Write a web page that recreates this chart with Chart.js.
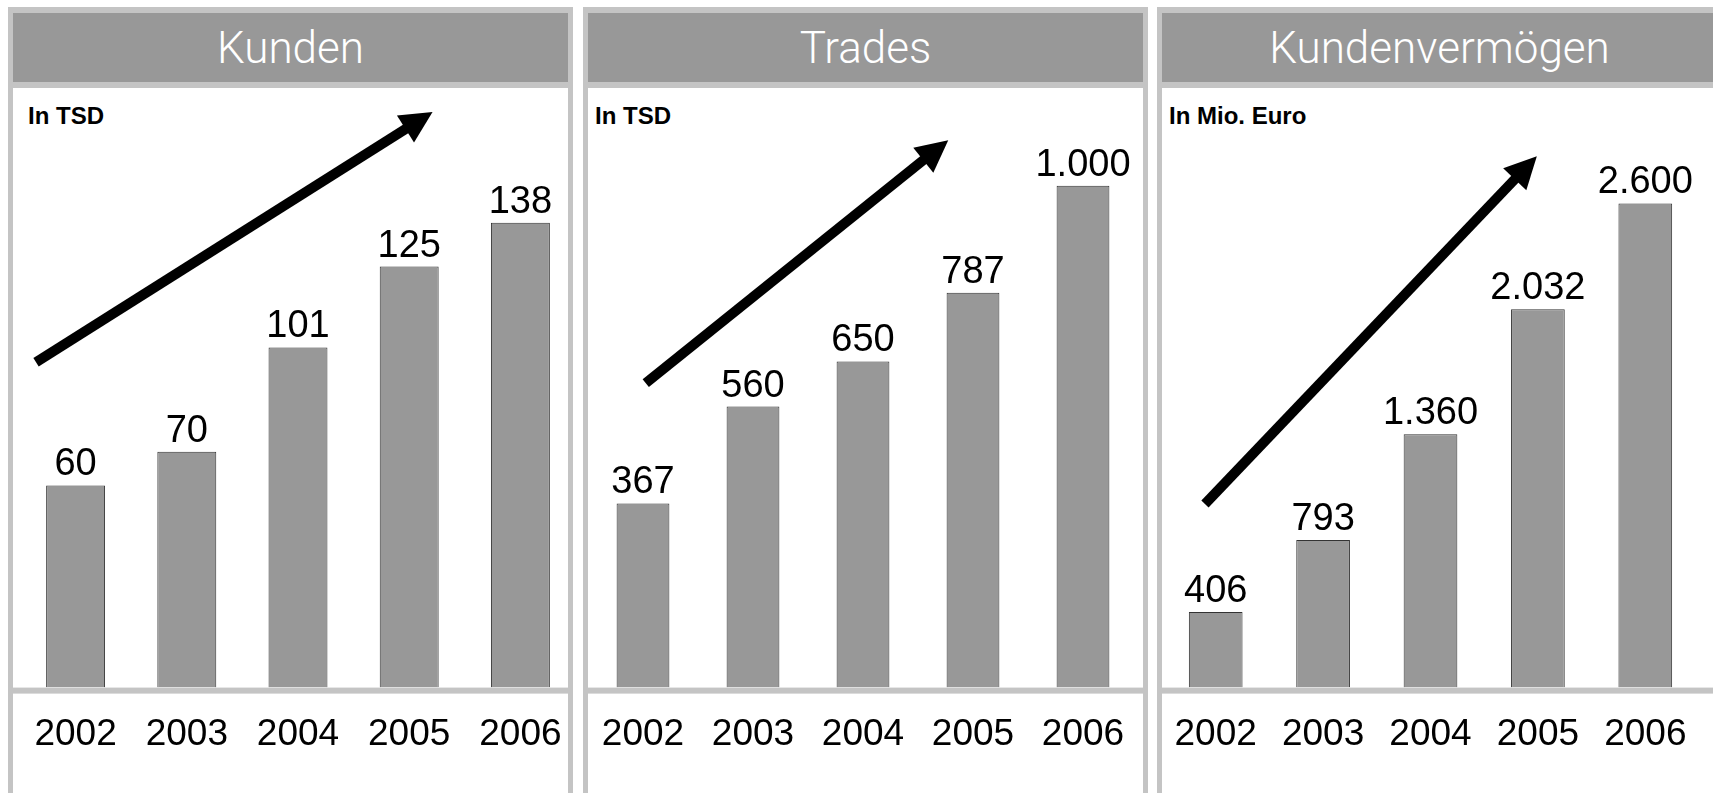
<!DOCTYPE html>
<html>
<head>
<meta charset="utf-8">
<script src="https://cdn.jsdelivr.net/npm/chart.js@4.4.1/dist/chart.umd.min.js"></script>
<style>
  html, body { margin:0; padding:0; background:#fff; width:1713px; height:793px; overflow:hidden; }
  body { position:relative; font-family:"Liberation Sans", Arial, sans-serif; }
  .panel { position:absolute; top:7px; width:555px; height:800px; border:5px solid #c4c4c4; border-top-width:6px; background:#fff; }
  .head { height:69px; background:#989898; color:#fff; text-align:center;
          font:300 44px Roboto, "Liberation Sans", sans-serif; line-height:70px; border-bottom:6px solid #c4c4c4; }
  .unit { position:absolute; top:91px; font:bold 24px/24px "Liberation Sans", Arial, sans-serif; color:#000; }
  .panel canvas { position:absolute; left:0; top:75px; }
</style>
</head>
<body>
<div class="panel" style="left:8px"><div class="head">Kunden</div><div class="unit" style="left:15px">In TSD</div><canvas id="c1" width="563" height="705"></canvas></div>
<div class="panel" style="left:583px"><div class="head">Trades</div><div class="unit" style="left:7px">In TSD</div><canvas id="c2" width="555" height="705"></canvas></div>
<div class="panel" style="left:1157px"><div class="head">Kundenvermögen</div><div class="unit" style="left:7px">In Mio. Euro</div><canvas id="c3" width="555" height="705"></canvas></div>
<script>
// data
const years = ['2002', '2003', '2004', '2005', '2006'];
const kunden = [60, 70, 101, 125, 138];          // in TSD
const trades = [367, 560, 650, 787, 1000];       // in TSD
const vermoegen = [406, 793, 1360, 2032, 2600];  // in Mio. Euro

// German thousands separator
const fmt = v => String(v).replace(/\B(?=(\d{3})+(?!\d))/g, '.');
const FONT = '"Liberation Sans", Arial, sans-serif';

// value above each bar
const valueLabels = {
  id: 'valueLabels',
  afterDatasetsDraw(chart) {
    const ctx = chart.ctx, ds = chart.data.datasets[0];
    ctx.save();
    ctx.font = '38px ' + FONT;
    ctx.fillStyle = '#000'; ctx.textAlign = 'center'; ctx.textBaseline = 'alphabetic';
    chart.getDatasetMeta(0).data.forEach((bar, i) => ctx.fillText(fmt(ds.data[i]), bar.x, bar.y - 10));
    ctx.restore();
  }
};

// grey band between plot and year row
const separator = {
  id: 'separator',
  afterDatasetsDraw(chart) {
    const ctx = chart.ctx;
    ctx.save();
    ctx.fillStyle = '#c4c4c4';
    ctx.fillRect(0, chart.chartArea.bottom, Math.min(chart.width, 555), 6);
    ctx.restore();
  }
};

// trend arrow, ends given in (category index, value)
const trendArrow = {
  id: 'trendArrow',
  afterDraw(chart, args, opts) {
    const x = chart.scales.x, y = chart.scales.y, ctx = chart.ctx;
    const x0 = x.getPixelForValue(opts.from[0]), y0 = y.getPixelForValue(opts.from[1]);
    const x1 = x.getPixelForValue(opts.to[0]), y1 = y.getPixelForValue(opts.to[1]);
    const a = Math.atan2(y1 - y0, x1 - x0), len = 32, hw = 16;
    const bx = x1 - len * Math.cos(a), by = y1 - len * Math.sin(a);
    ctx.save();
    ctx.strokeStyle = '#000'; ctx.fillStyle = '#000'; ctx.lineWidth = 10;
    ctx.beginPath(); ctx.moveTo(x0, y0); ctx.lineTo(bx + 2 * Math.cos(a), by + 2 * Math.sin(a)); ctx.stroke();
    ctx.beginPath();
    ctx.moveTo(x1, y1);
    ctx.lineTo(bx + hw * Math.sin(a), by - hw * Math.cos(a));
    ctx.lineTo(bx - hw * Math.sin(a), by + hw * Math.cos(a));
    ctx.closePath(); ctx.fill();
    ctx.restore();
  }
};

function makeChart(id, values, yMax, barPct, padL, padR, arrow) {
  new Chart(document.getElementById(id), {
    type: 'bar',
    data: { labels: years, datasets: [{ data: values, backgroundColor: '#989898',
      borderColor: '#333', borderWidth: 1, categoryPercentage: 1, barPercentage: barPct }] },
    options: {
      responsive: false, animation: false, devicePixelRatio: 1,
      layout: { padding: { left: padL, right: padR, top: 0, bottom: 36 } },
      scales: {
        x: { grid: { display: false, drawTicks: true, tickLength: 25 }, border: { display: false },
             ticks: { color: '#000', padding: 0, font: { family: FONT, size: 37 } } },
        y: { display: false, min: 0, max: yMax }
      },
      plugins: { legend: { display: false }, tooltip: { enabled: false }, trendArrow: arrow }
    },
    plugins: [valueLabels, separator, trendArrow]
  });
}

makeChart('c1', kunden, 178, 0.53, 7, 0, { from: [-0.356, 96.6], to: [3.21, 170.9] });
makeChart('c2', trades, 1195, 0.48, 0, 5, { from: [0.025, 607], to: [2.775, 1091] });
makeChart('c3', vermoegen, 3220, 0.5, 0, 18, { from: [-0.1, 986], to: [2.99, 2854] });
</script>
</body>
</html>
